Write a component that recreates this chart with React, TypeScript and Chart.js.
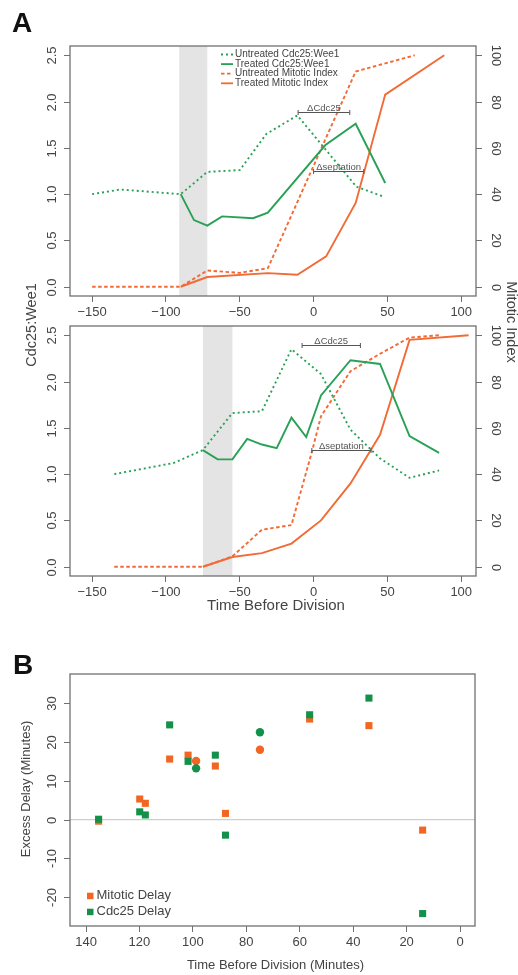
import React, { useEffect, useRef } from "react";
import { Chart, registerables } from "chart.js";

Chart.register(...registerables);

const FONT = "'Liberation Sans', Arial, Helvetica, sans-serif";
Chart.defaults.font.family = FONT;

const ORANGE = "#F26A35";
const GREEN = "#28A156";
const ORANGE_PT = "#F26522";
const GREEN_PT = "#13914A";
const AXIS = "#707070";
const TEXT = "#444444";

// ---------- Tick values ----------
const timeTicks = [-150, -100, -50, 0, 50, 100];
const ratioTicks = [0, 0.5, 1, 1.5, 2, 2.5];
const mitoticTicks = [0, 20, 40, 60, 80, 100];
const delayTimeTicks = [140, 120, 100, 80, 60, 40, 20, 0];
const delayTicks = [-20, -10, 0, 10, 20, 30];

// ---------- Panel A, upper ----------
const upUntreatedCdcX = [-150, -131, -90, -72, -50, -32, -11, 29, 48];
const upUntreatedCdcY = [1.0, 1.05, 1.0, 1.24, 1.26, 1.65, 1.85, 1.08, 0.97];
const upTreatedCdcX = [-90, -81, -72, -62, -41, -31, 8, 28.5, 48.5];
const upTreatedCdcY = [1.0, 0.72, 0.66, 0.76, 0.74, 0.8, 1.53, 1.76, 1.12];
const upUntreatedMitX = [-150, -90, -72, -50, -31, 28.5, 68.5];
const upUntreatedMitY = [0, 0, 7, 6, 8, 93, 100];
const upTreatedMitX = [-90, -72, -31, -11, 8.5, 28.5, 48.5, 88.5];
const upTreatedMitY = [0, 4.2, 5.9, 5.2, 13.1, 36.2, 83, 100];
const upShade = [-91, -72];
const upDeltaCdcRange = [-10.5, 24.5];
const upDeltaCdcLevel = 1.89;
const upDeltaSeptRange = [0, 34];
const upDeltaSeptLevel = 1.25;

// ---------- Panel A, lower ----------
const loUntreatedCdcX = [-135, -95, -75, -55, -35, -15, 5, 25, 45, 65, 85];
const loUntreatedCdcY = [1.0, 1.12, 1.26, 1.66, 1.68, 2.35, 2.08, 1.48, 1.17, 0.96, 1.04];
const loTreatedCdcX = [-75, -65, -55, -45, -35, -25, -15, -5, 5, 25, 45, 65, 85];
const loTreatedCdcY = [1.26, 1.16, 1.16, 1.38, 1.32, 1.28, 1.61, 1.4, 1.85, 2.23, 2.19, 1.41, 1.23];
const loUntreatedMitX = [-135, -75, -55, -35, -15, -1, 5, 25, 45, 65, 85];
const loUntreatedMitY = [0, 0, 4.5, 16, 18, 50, 65, 84.5, 92, 99, 100];
const loTreatedMitX = [-75, -55, -35, -15, 5, 25, 45, 65, 105];
const loTreatedMitY = [0, 4.2, 5.9, 10, 20, 36, 57, 98, 100];
const loShade = [-75, -55];
const loDeltaCdcRange = [-7.8, 31.7];
const loDeltaCdcLevel = 2.39;
const loDeltaSeptRange = [-1.2, 38.9];
const loDeltaSeptLevel = 1.265;

// ---------- Panel B ----------
const sqTime = [135.3, 119.9, 117.8, 108.7, 101.8, 91.6, 87.8, 56.3, 34.1, 14.0];
const sqMitoticDelay = [-0.4, 5.3, 4.2, 15.6, 16.6, 13.8, 1.6, 25.9, 24.2, -2.7];
const sqCdc25Delay = [0.1, 2.0, 1.2, 24.4, 15.0, 16.6, -4.0, 27.0, 31.3, -24.2];
const circTime = [98.8, 74.9];
const circMitoticDelay = [15.1, 18.0];
const circCdc25Delay = [13.2, 22.5];

const zip = (xs: number[], ys: number[]) => xs.map((x, i) => ({ x, y: ys[i] }));
const minus = (v: number) => String(v).replace("-", "\u2212");

function lineDs(label: string, xs: number[], ys: number[], color: string, dash: number[], axis: string) {
  return {
    label,
    data: zip(xs, ys),
    borderColor: color,
    backgroundColor: color,
    borderDash: dash,
    borderWidth: 1.9,
    pointRadius: 0,
    showLine: true,
    tension: 0,
    fill: false,
    yAxisID: axis,
  };
}

type Ann = { range: number[]; level: number; text: string };
type FreeText = { text: string; size: number; x: number; y: number; ang: number };
type DecorCfg = {
  shade?: number[];
  zeroLine?: boolean;
  left: { ticks: number[]; fmt: (v: number) => string; scale: string };
  right?: { ticks: number[]; fmt: (v: number) => string; scale: string };
  anns?: Ann[];
  lineLegend?: boolean;
  pointLegend?: boolean;
  xTitle?: { text: string; size: number; y: number };
  texts?: FreeText[];
};

function rotText(ctx: CanvasRenderingContext2D, t: string, x: number, y: number, ang: number, font: string) {
  ctx.save();
  ctx.translate(x, y);
  ctx.rotate(ang);
  ctx.font = font;
  ctx.fillStyle = TEXT;
  ctx.textAlign = "center";
  ctx.textBaseline = "middle";
  ctx.fillText(t, 0, 0);
  ctx.restore();
}

function makeDecor(cfg: DecorCfg) {
  return {
    id: "decor",
    beforeDatasetsDraw(chart: any) {
      const { ctx, chartArea: a, scales } = chart;
      ctx.save();
      if (cfg.shade) {
        const x0 = scales.x.getPixelForValue(cfg.shade[0]);
        const x1 = scales.x.getPixelForValue(cfg.shade[1]);
        ctx.fillStyle = "#E4E4E4";
        ctx.fillRect(Math.min(x0, x1), a.top, Math.abs(x1 - x0), a.bottom - a.top);
      }
      if (cfg.zeroLine) {
        const y = scales[cfg.left.scale].getPixelForValue(0);
        ctx.strokeStyle = "#CDCDCD";
        ctx.lineWidth = 1.2;
        ctx.beginPath();
        ctx.moveTo(a.left, y);
        ctx.lineTo(a.right, y);
        ctx.stroke();
      }
      ctx.restore();
    },
    afterDraw(chart: any) {
      const { ctx, chartArea: a, scales } = chart;
      ctx.save();
      ctx.strokeStyle = AXIS;
      ctx.lineWidth = 1.3;
      ctx.strokeRect(a.left, a.top, a.right - a.left, a.bottom - a.top);
      ctx.lineWidth = 1;
      const ls = scales[cfg.left.scale];
      for (const v of cfg.left.ticks) {
        const y = Math.round(ls.getPixelForValue(v)) + 0.5;
        ctx.beginPath();
        ctx.moveTo(a.left - 6, y);
        ctx.lineTo(a.left, y);
        ctx.stroke();
        rotText(ctx, cfg.left.fmt(v), a.left - 18, y, -Math.PI / 2, "13px " + FONT);
      }
      if (cfg.right) {
        const rs = scales[cfg.right.scale];
        for (const v of cfg.right.ticks) {
          const y = Math.round(rs.getPixelForValue(v)) + 0.5;
          ctx.beginPath();
          ctx.moveTo(a.right, y);
          ctx.lineTo(a.right + 6, y);
          ctx.stroke();
          rotText(ctx, cfg.right.fmt(v), a.right + 20, y, Math.PI / 2, "13px " + FONT);
        }
      }
      if (cfg.anns) {
        for (const an of cfg.anns) {
          const x0 = scales.x.getPixelForValue(an.range[0]);
          const x1 = scales.x.getPixelForValue(an.range[1]);
          const y = Math.round(scales.y.getPixelForValue(an.level)) + 0.5;
          ctx.strokeStyle = "#555";
          ctx.lineWidth = 1;
          ctx.beginPath();
          ctx.moveTo(x0, y);
          ctx.lineTo(x1, y);
          ctx.moveTo(x0, y - 2.5);
          ctx.lineTo(x0, y + 2.5);
          ctx.moveTo(x1, y - 2.5);
          ctx.lineTo(x1, y + 2.5);
          ctx.stroke();
          ctx.font = "9.5px " + FONT;
          ctx.fillStyle = "#555";
          ctx.textAlign = "center";
          ctx.textBaseline = "alphabetic";
          ctx.fillText(an.text, (x0 + x1) / 2, y - 1.5);
        }
      }
      if (cfg.lineLegend) {
        const lx = a.left + 151;
        let ly = a.top + 8.5;
        for (const ds of chart.data.datasets) {
          ctx.strokeStyle = ds.borderColor;
          ctx.lineWidth = 1.8;
          ctx.setLineDash(ds.borderDash || []);
          ctx.beginPath();
          ctx.moveTo(lx, ly);
          ctx.lineTo(lx + 12, ly);
          ctx.stroke();
          ctx.setLineDash([]);
          ctx.font = "10px " + FONT;
          ctx.fillStyle = TEXT;
          ctx.textAlign = "left";
          ctx.textBaseline = "middle";
          ctx.fillText(ds.label, lx + 14, ly);
          ly += 9.6;
        }
      }
      if (cfg.pointLegend) {
        const items = chart.data.datasets.filter((d: any) => d.pointStyle === "rect");
        items.sort((p: any, q: any) => q.order - p.order);
        let ly = a.bottom - 30.3;
        for (const ds of items) {
          ctx.fillStyle = ds.backgroundColor;
          ctx.fillRect(a.left + 17, ly - 3, 6.5, 6.5);
          ctx.font = "13px " + FONT;
          ctx.fillStyle = TEXT;
          ctx.textAlign = "left";
          ctx.textBaseline = "middle";
          ctx.fillText(ds.label, a.left + 26.5, ly);
          ly += 16;
        }
      }
      if (cfg.xTitle) {
        ctx.font = cfg.xTitle.size + "px " + FONT;
        ctx.fillStyle = TEXT;
        ctx.textAlign = "center";
        ctx.textBaseline = "middle";
        ctx.fillText(cfg.xTitle.text, (a.left + a.right) / 2 + 3, cfg.xTitle.y);
      }
      if (cfg.texts) {
        for (const t of cfg.texts) rotText(ctx, t.text, t.x, t.y, t.ang, t.size + "px " + FONT);
      }
      ctx.restore();
    },
  };
}

function xScale(min: number, max: number, ticks: number[], fmt: (v: number) => string, axisHeight: number, reverse = false) {
  return {
    type: "linear",
    position: "bottom",
    min,
    max,
    reverse,
    afterBuildTicks: (s: any) => {
      s.ticks = ticks.map((v) => ({ value: v }));
    },
    afterFit: (s: any) => {
      s.height = axisHeight;
    },
    ticks: {
      autoSkip: false,
      maxRotation: 0,
      minRotation: 0,
      padding: 3,
      color: TEXT,
      font: { size: 13, family: FONT },
      callback: (v: any) => fmt(Number(v)),
    },
    grid: {
      display: true,
      drawOnChartArea: false,
      drawTicks: true,
      tickLength: 6,
      color: AXIS,
      tickColor: AXIS,
    },
    border: { display: false },
  };
}

function yScale(pos: string, min: number, max: number, width: number) {
  return {
    type: "linear",
    position: pos,
    min,
    max,
    afterFit: (s: any) => {
      s.width = width;
    },
    ticks: { display: false },
    grid: { display: false },
    border: { display: false },
  };
}

function panelAConfig(H: number, boxTop: number, boxBottom: number, datasets: any[], cfg: DecorCfg) {
  return {
    type: "scatter",
    data: { datasets },
    options: {
      animation: false,
      responsive: false,
      events: [],
      layout: { padding: { top: boxTop, left: 0, right: 0, bottom: 0 } },
      plugins: { legend: { display: false }, tooltip: { enabled: false }, title: { display: false } },
      scales: {
        x: xScale(-165, 110, timeTicks, minus, H - boxBottom),
        y: yScale("left", -0.1, 2.6, 70),
        y1: yScale("right", -4, 104, 42),
      },
    },
    plugins: [makeDecor(cfg)],
  };
}

function upperConfig() {
  const ds = [
    lineDs("Untreated Cdc25:Wee1", upUntreatedCdcX, upUntreatedCdcY, GREEN, [2, 3], "y"),
    lineDs("Treated Cdc25:Wee1", upTreatedCdcX, upTreatedCdcY, GREEN, [], "y"),
    lineDs("Untreated Mitotic Index", upUntreatedMitX, upUntreatedMitY, ORANGE, [3.5, 2.5], "y1"),
    lineDs("Treated Mitotic Index", upTreatedMitX, upTreatedMitY, ORANGE, [], "y1"),
  ];
  return panelAConfig(380, 46, 296, ds, {
    shade: upShade,
    left: { ticks: ratioTicks, fmt: (v) => v.toFixed(1), scale: "y" },
    right: { ticks: mitoticTicks, fmt: (v) => String(v), scale: "y1" },
    anns: [
      { range: upDeltaCdcRange, level: upDeltaCdcLevel, text: "\u0394Cdc25" },
      { range: upDeltaSeptRange, level: upDeltaSeptLevel, text: "\u0394septation" },
    ],
    lineLegend: true,
    texts: [
      { text: "Cdc25:Wee1", size: 14.5, x: 32, y: 325, ang: -Math.PI / 2 },
      { text: "Mitotic Index", size: 14.5, x: 511, y: 322, ang: Math.PI / 2 },
    ],
  });
}

function lowerConfig() {
  const ds = [
    lineDs("Untreated Cdc25:Wee1", loUntreatedCdcX, loUntreatedCdcY, GREEN, [2, 3], "y"),
    lineDs("Treated Cdc25:Wee1", loTreatedCdcX, loTreatedCdcY, GREEN, [], "y"),
    lineDs("Untreated Mitotic Index", loUntreatedMitX, loUntreatedMitY, ORANGE, [3.5, 2.5], "y1"),
    lineDs("Treated Mitotic Index", loTreatedMitX, loTreatedMitY, ORANGE, [], "y1"),
  ];
  return panelAConfig(320, 26, 276, ds, {
    shade: loShade,
    left: { ticks: ratioTicks, fmt: (v) => v.toFixed(1), scale: "y" },
    right: { ticks: mitoticTicks, fmt: (v) => String(v), scale: "y1" },
    anns: [
      { range: loDeltaCdcRange, level: loDeltaCdcLevel, text: "\u0394Cdc25" },
      { range: loDeltaSeptRange, level: loDeltaSeptLevel, text: "\u0394septation" },
    ],
    xTitle: { text: "Time Before Division", size: 15, y: 306 },
  });
}

function ptDs(label: string, xs: number[], ys: number[], color: string, style: string, radius: number, order: number) {
  return {
    label,
    data: zip(xs, ys),
    pointStyle: style,
    pointRadius: radius,
    backgroundColor: color,
    borderColor: color,
    borderWidth: 0,
    showLine: false,
    order,
  };
}

function panelBConfig() {
  const ds = [
    ptDs("Mitotic Delay", sqTime, sqMitoticDelay, ORANGE_PT, "rect", 5, 1),
    ptDs("Mitotic Delay (circle)", circTime, circMitoticDelay, ORANGE_PT, "circle", 4.2, 1),
    ptDs("Cdc25 Delay", sqTime, sqCdc25Delay, GREEN_PT, "rect", 5, 0),
    ptDs("Cdc25 Delay (circle)", circTime, circCdc25Delay, GREEN_PT, "circle", 4.2, 0),
  ];
  return {
    type: "scatter",
    data: { datasets: ds },
    options: {
      animation: false,
      responsive: false,
      events: [],
      layout: { padding: { top: 44, left: 0, right: 43, bottom: 0 } },
      plugins: { legend: { display: false }, tooltip: { enabled: false }, title: { display: false } },
      scales: {
        x: xScale(-5.6, 146, delayTimeTicks, (v) => String(v), 345 - 296, true),
        y: yScale("left", -27.4, 37.5, 70),
      },
    },
    plugins: [
      makeDecor({
        zeroLine: true,
        left: { ticks: delayTicks, fmt: (v) => String(v), scale: "y" },
        pointLegend: true,
        xTitle: { text: "Time Before Division (Minutes)", size: 13, y: 335 },
        texts: [{ text: "Excess Delay (Minutes)", size: 13, x: 26, y: 159, ang: -Math.PI / 2 }],
      }),
    ],
  };
}

function ChartBox({ top, height, build }: { top: number; height: number; build: () => any }) {
  const ref = useRef<HTMLCanvasElement>(null);
  useEffect(() => {
    const chart = new Chart(ref.current as HTMLCanvasElement, build());
    return () => chart.destroy();
  }, []);
  return (
    <canvas
      ref={ref}
      width={518}
      height={height}
      style={{ position: "absolute", left: 0, top, width: 518, height, display: "block" }}
    />
  );
}

export default function App() {
  return (
    <div
      style={{
        position: "absolute",
        left: 0,
        top: 0,
        width: 518,
        height: 975,
        background: "#ffffff",
        overflow: "hidden",
        fontFamily: FONT,
      }}
    >
      <ChartBox top={0} height={380} build={upperConfig} />
      <ChartBox top={300} height={320} build={lowerConfig} />
      <ChartBox top={630} height={345} build={panelBConfig} />
      <div style={{ position: "absolute", left: 12, top: 7, fontSize: 28, fontWeight: "bold", color: "#111" }}>A</div>
      <div style={{ position: "absolute", left: 13, top: 649, fontSize: 28, fontWeight: "bold", color: "#111" }}>B</div>
    </div>
  );
}
